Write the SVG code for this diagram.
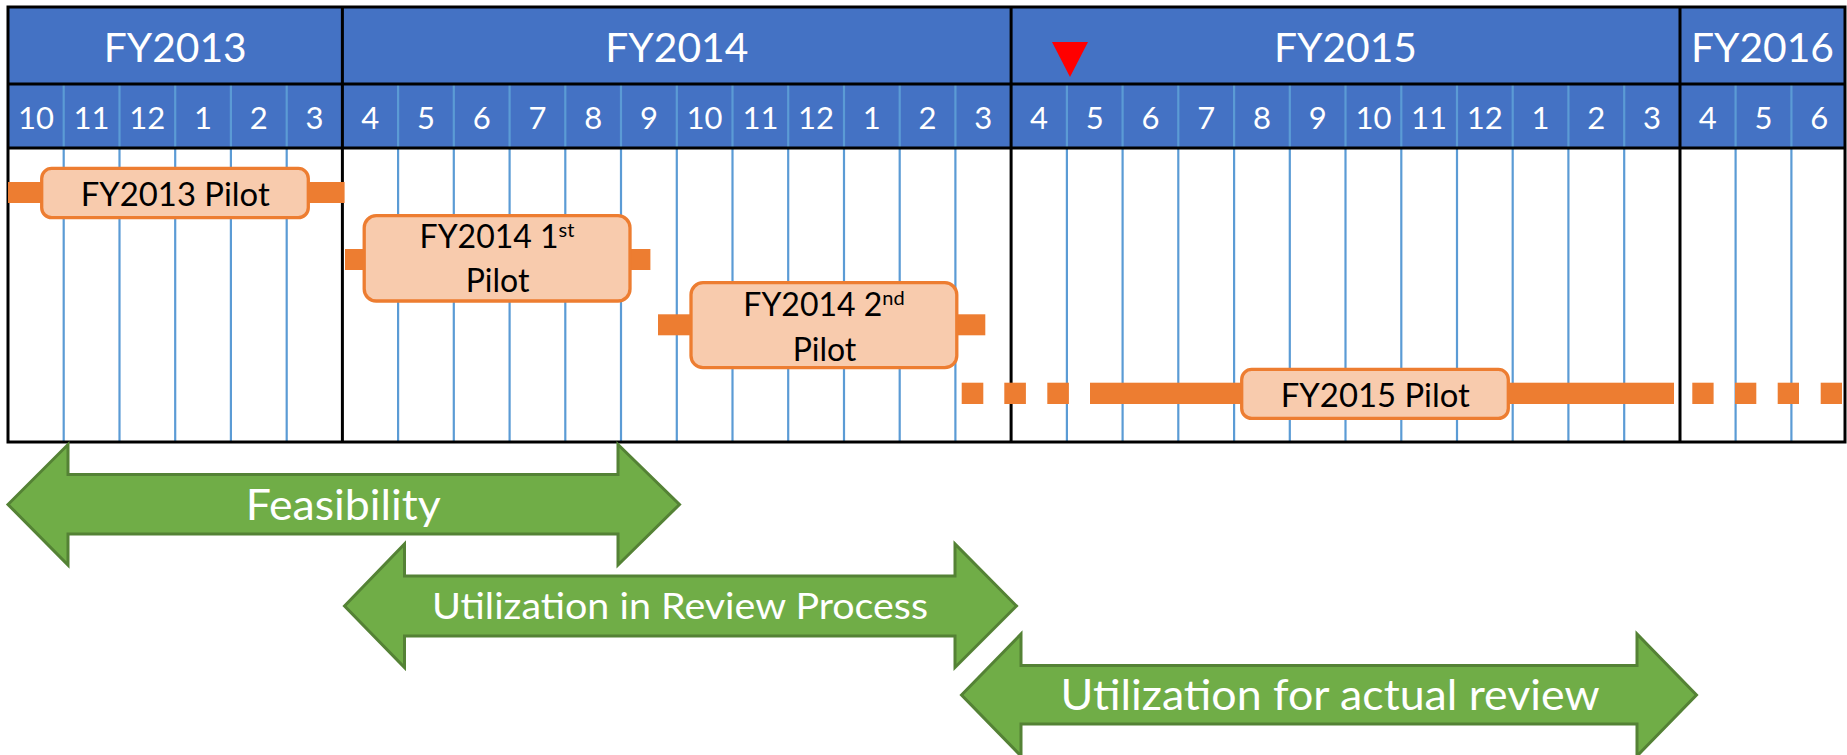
<svg xmlns="http://www.w3.org/2000/svg" width="1847" height="755" viewBox="0 0 1847 755">
  <style>
    .hdr { fill: #4472C4; }
    .blk { stroke: #000; stroke-width: 3; fill: none; }
    .mline { stroke: #5B9BD5; stroke-width: 2.2; }
    .yr { font-family: Lato, "Liberation Sans", sans-serif; font-size: 41px; fill: #fff; text-anchor: middle; }
    .mo { font-family: Lato, "Liberation Sans", sans-serif; font-size: 31px; fill: #fff; text-anchor: middle; }
    .bar { fill: #ED7D31; }
    .box { fill: #F8CBAD; stroke: #ED7D31; stroke-width: 3.3; }
    .pt { font-family: Lato, "Liberation Sans", sans-serif; font-size: 32px; fill: #000; text-anchor: middle; }
    .sup { font-size: 20px; }
    .arrow { fill: #70AD47; stroke: #548235; stroke-width: 3; stroke-linejoin: miter; }
    .at { font-family: Lato, "Liberation Sans", sans-serif; fill: #fff; text-anchor: middle; }
  </style>

  <rect width="1847" height="755" fill="#fff"/>

  <!-- timeline table -->
  <g id="timeline">
    <rect class="hdr" x="8" y="7" width="1837" height="141"/>
    <rect x="8" y="148" width="1837" height="294" fill="#fff"/>

    <!-- month grid lines -->
    <g class="mline">
      <line x1="63.7" y1="84" x2="63.7" y2="442"/>
      <line x1="119.5" y1="84" x2="119.5" y2="442"/>
      <line x1="175.2" y1="84" x2="175.2" y2="442"/>
      <line x1="230.9" y1="84" x2="230.9" y2="442"/>
      <line x1="286.7" y1="84" x2="286.7" y2="442"/>
      <line x1="398.1" y1="84" x2="398.1" y2="442"/>
      <line x1="453.8" y1="84" x2="453.8" y2="442"/>
      <line x1="509.6" y1="84" x2="509.6" y2="442"/>
      <line x1="565.3" y1="84" x2="565.3" y2="442"/>
      <line x1="621.0" y1="84" x2="621.0" y2="442"/>
      <line x1="676.8" y1="84" x2="676.8" y2="442"/>
      <line x1="732.5" y1="84" x2="732.5" y2="442"/>
      <line x1="788.2" y1="84" x2="788.2" y2="442"/>
      <line x1="844.0" y1="84" x2="844.0" y2="442"/>
      <line x1="899.7" y1="84" x2="899.7" y2="442"/>
      <line x1="955.4" y1="84" x2="955.4" y2="442"/>
      <line x1="1066.9" y1="84" x2="1066.9" y2="442"/>
      <line x1="1122.6" y1="84" x2="1122.6" y2="442"/>
      <line x1="1178.3" y1="84" x2="1178.3" y2="442"/>
      <line x1="1234.1" y1="84" x2="1234.1" y2="442"/>
      <line x1="1289.8" y1="84" x2="1289.8" y2="442"/>
      <line x1="1345.5" y1="84" x2="1345.5" y2="442"/>
      <line x1="1401.3" y1="84" x2="1401.3" y2="442"/>
      <line x1="1457.0" y1="84" x2="1457.0" y2="442"/>
      <line x1="1512.7" y1="84" x2="1512.7" y2="442"/>
      <line x1="1568.4" y1="84" x2="1568.4" y2="442"/>
      <line x1="1624.2" y1="84" x2="1624.2" y2="442"/>
      <line x1="1735.6" y1="84" x2="1735.6" y2="442"/>
      <line x1="1791.4" y1="84" x2="1791.4" y2="442"/>
    </g>

    <!-- borders and fiscal-year dividers -->
    <rect class="blk" x="8" y="7" width="1837" height="435"/>
    <line class="blk" x1="8" y1="84" x2="1845" y2="84"/>
    <line class="blk" x1="8" y1="148" x2="1845" y2="148"/>
    <line class="blk" x1="342.4" y1="7" x2="342.4" y2="442"/>
    <line class="blk" x1="1011.1" y1="7" x2="1011.1" y2="442"/>
    <line class="blk" x1="1680" y1="7" x2="1680" y2="442"/>

    <!-- fiscal years -->
    <text class="yr" x="175.2" y="62" textLength="143" lengthAdjust="spacingAndGlyphs">FY2013</text>
    <text class="yr" x="676.8" y="62" textLength="143" lengthAdjust="spacingAndGlyphs">FY2014</text>
    <text class="yr" x="1345.5" y="62" textLength="143" lengthAdjust="spacingAndGlyphs">FY2015</text>
    <text class="yr" x="1762.5" y="62" textLength="143" lengthAdjust="spacingAndGlyphs">FY2016</text>

    <!-- months -->
    <g class="mo">
      <text x="35.9" y="129">10</text>
      <text x="91.6" y="129">11</text>
      <text x="147.3" y="129">12</text>
      <text x="203.1" y="129">1</text>
      <text x="258.8" y="129">2</text>
      <text x="314.5" y="129">3</text>
      <text x="370.2" y="129">4</text>
      <text x="426.0" y="129">5</text>
      <text x="481.7" y="129">6</text>
      <text x="537.4" y="129">7</text>
      <text x="593.2" y="129">8</text>
      <text x="648.9" y="129">9</text>
      <text x="704.6" y="129">10</text>
      <text x="760.4" y="129">11</text>
      <text x="816.1" y="129">12</text>
      <text x="871.8" y="129">1</text>
      <text x="927.5" y="129">2</text>
      <text x="983.3" y="129">3</text>
      <text x="1039.0" y="129">4</text>
      <text x="1094.7" y="129">5</text>
      <text x="1150.5" y="129">6</text>
      <text x="1206.2" y="129">7</text>
      <text x="1261.9" y="129">8</text>
      <text x="1317.7" y="129">9</text>
      <text x="1373.4" y="129">10</text>
      <text x="1429.1" y="129">11</text>
      <text x="1484.8" y="129">12</text>
      <text x="1540.6" y="129">1</text>
      <text x="1596.3" y="129">2</text>
      <text x="1652.0" y="129">3</text>
      <text x="1707.8" y="129">4</text>
      <text x="1763.5" y="129">5</text>
      <text x="1819.2" y="129">6</text>
    </g>

    <!-- current-month marker -->
    <polygon points="1052,42 1088,42 1070,77" fill="#FF0000"/>
  </g>

  <!-- pilot duration bars -->
  <g id="connectors">
    <rect class="bar" x="8" y="182" width="336.6" height="21"/>
    <rect class="bar" x="345" y="249" width="305.4" height="21"/>
    <rect class="bar" x="658" y="314.3" width="327.3" height="21"/>
    <rect class="bar" x="961.7" y="382.7" width="21.6" height="21.3"/>
    <rect class="bar" x="1004.3" y="382.7" width="21.6" height="21.3"/>
    <rect class="bar" x="1047.3" y="382.7" width="21.6" height="21.3"/>
    <rect class="bar" x="1090" y="382.7" width="584" height="21.3"/>
    <rect class="bar" x="1692.3" y="382.7" width="21.3" height="21.3"/>
    <rect class="bar" x="1735" y="382.7" width="21.3" height="21.3"/>
    <rect class="bar" x="1777.7" y="382.7" width="21.3" height="21.3"/>
    <rect class="bar" x="1820.7" y="382.7" width="21.3" height="21.3"/>
  </g>

  <!-- pilots -->
  <g id="pilot-fy2013">
    <rect class="box" x="41.7" y="168.4" width="266.6" height="49.3" rx="10"/>
    <text class="pt" x="175.2" y="206" textLength="189" lengthAdjust="spacingAndGlyphs">FY2013 Pilot</text>
  </g>
  <g id="pilot-fy2014-1">
    <rect class="box" x="364.2" y="215.7" width="265.8" height="85.3" rx="12"/>
    <text class="pt" x="497" y="247.7">FY2014 1<tspan class="sup" dy="-11">st</tspan></text>
    <text class="pt" x="497.6" y="292">Pilot</text>
  </g>
  <g id="pilot-fy2014-2">
    <rect class="box" x="691" y="282.7" width="265.8" height="85" rx="12"/>
    <text class="pt" x="824" y="316">FY2014 2<tspan class="sup" dy="-11">nd</tspan></text>
    <text class="pt" x="824.5" y="360.7">Pilot</text>
  </g>
  <g id="pilot-fy2015">
    <rect class="box" x="1241.7" y="369.4" width="266.6" height="49" rx="10"/>
    <text class="pt" x="1375.3" y="406.7" textLength="189" lengthAdjust="spacingAndGlyphs">FY2015 Pilot</text>
  </g>

  <!-- phases -->
  <g id="phase-feasibility">
    <polygon class="arrow" points="8,504.5 68,444.5 68,474.5 618,474.5 618,444.5 679.5,504.5 618,565 618,534 68,534 68,565"/>
    <text class="at" x="343.2" y="520" font-size="42" textLength="195" lengthAdjust="spacingAndGlyphs">Feasibility</text>
  </g>
  <g id="phase-review-process">
    <polygon class="arrow" points="344.5,606 404.5,544 404.5,576 955,576 955,544 1016.5,606 955,667.5 955,636 404.5,636 404.5,667.5"/>
    <text class="at" x="680" y="619.3" font-size="36" textLength="496" lengthAdjust="spacingAndGlyphs">Utilization in Review Process</text>
  </g>
  <g id="phase-actual-review">
    <polygon class="arrow" points="961.5,695 1021,634 1021,665.5 1637,665.5 1637,634 1696.5,695 1637,756 1637,724 1021,724 1021,756"/>
    <text class="at" x="1330" y="710" font-size="42" textLength="539" lengthAdjust="spacingAndGlyphs">Utilization for actual review</text>
  </g>
</svg>
